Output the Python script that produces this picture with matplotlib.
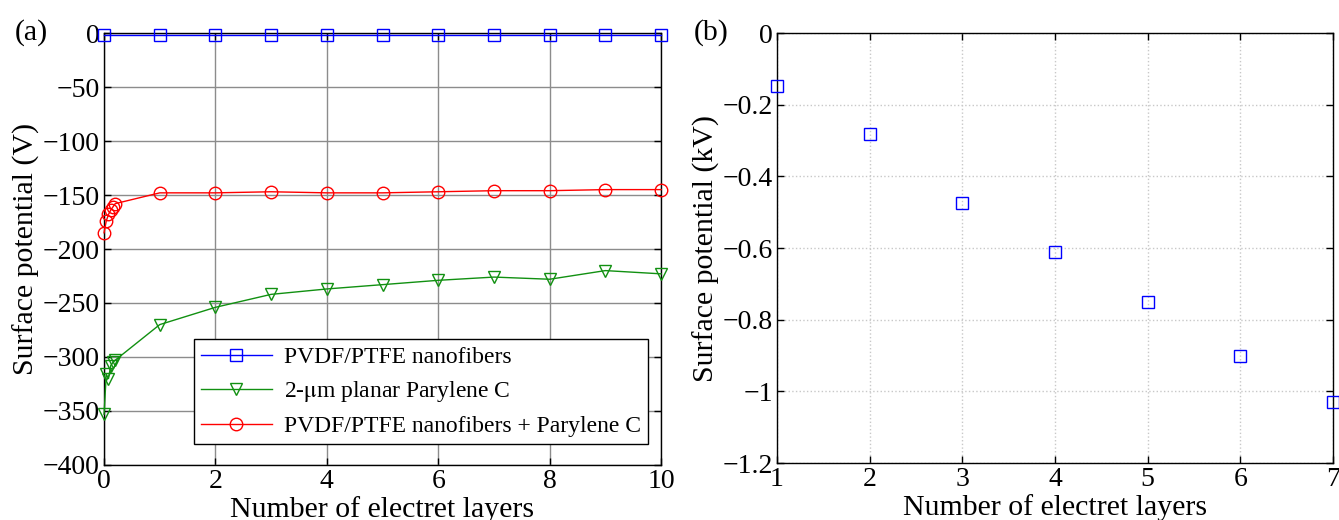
import matplotlib.pyplot as plt

plt.rcParams['font.family'] = ['Liberation Serif', 'DejaVu Serif']
plt.rcParams['mathtext.fontset'] = 'stix'

# Panel (a) data
x_blue = [0, 1, 2, 3, 4, 5, 6, 7, 8, 9, 10]
y_blue = [-2, -2, -2, -2, -2, -2, -2, -2, -2, -2, -2]

x_green = [0, 0.04, 0.08, 0.12, 0.16, 0.2, 1, 2, 3, 4, 5, 6, 7, 8, 9, 10]
y_green = [-353, -316, -320, -308, -305, -303, -270, -254, -242, -237, -233, -229, -226, -228, -220, -223]

x_red = [0, 0.04, 0.08, 0.12, 0.16, 0.2, 1, 2, 3, 4, 5, 6, 7, 8, 9, 10]
y_red = [-185, -174, -168, -164, -161, -158, -148, -148, -147, -148, -148, -147, -146, -146, -145, -145]

# Panel (b) data
x_b = [1, 2, 3, 4, 5, 6, 7]
y_b = [-0.148, -0.282, -0.474, -0.611, -0.750, -0.900, -1.029]

fig = plt.figure(figsize=(13.39, 5.2), dpi=100)
ax1 = fig.add_axes([0.0777, 0.1058, 0.416, 0.8307])
ax2 = fig.add_axes([0.5803, 0.1096, 0.4152, 0.8269])

fs = 21.5
tfs = 20

# Panel (a)
ax1.plot(x_blue, y_blue, '-s', color='blue', mfc='none', ms=8, lw=1, clip_on=False, zorder=5,
         label='PVDF/PTFE nanofibers')
ax1.plot(x_green, y_green, '-v', color='#119011', mfc='none', ms=9, lw=1, clip_on=False, zorder=5,
         label=r'2-$\mathrm{\mu}$m planar Parylene C')
ax1.plot(x_red, y_red, '-o', color='red', mfc='none', ms=9, lw=1, clip_on=False, zorder=5,
         label='PVDF/PTFE nanofibers + Parylene C')
ax1.set_xlim(0, 10)
ax1.set_ylim(-400, 0)
ax1.set_xticks(range(0, 11, 2))
ax1.set_yticks(range(-400, 1, 50))
ax1.grid(True, color='#8c8c8c', lw=1, ls='-')
ax1.set_axisbelow(True)
ax1.set_xlabel('Number of electret layers', fontsize=fs, labelpad=1)
ax1.set_ylabel('Surface potential (V)', fontsize=fs, labelpad=2)
leg = ax1.legend(loc='lower right', bbox_to_anchor=(0.976, 0.048), fontsize=17, frameon=True,
                 fancybox=False, edgecolor='black', framealpha=1, borderpad=0.3,
                 labelspacing=0.48, handlelength=3, handletextpad=0.5, borderaxespad=0)
leg.get_frame().set_linewidth(1)
fig.text(0.011, 0.937, '(a)', fontsize=fs, va='center')

# Panel (b)
ax2.plot(x_b, y_b, 's', color='blue', mfc='none', ms=8, clip_on=False, zorder=5)
ax2.set_xlim(1, 7)
ax2.set_ylim(-1.2, 0)
ax2.set_xticks(range(1, 8))
ax2.set_yticks([-1.2, -1, -0.8, -0.6, -0.4, -0.2, 0])
ax2.set_yticklabels(['\u22121.2', '\u22121', '\u22120.8', '\u22120.6', '\u22120.4', '\u22120.2', '0'])
ax2.grid(True, color='#c8c8c8', lw=1, ls=':')
ax2.set_axisbelow(True)
ax2.set_xlabel('Number of electret layers', fontsize=fs, labelpad=1)
ax2.set_ylabel('Surface potential (kV)', fontsize=fs, labelpad=2)
fig.text(0.518, 0.937, '(b)', fontsize=fs, va='center')

for ax in (ax1, ax2):
    ax.tick_params(direction='in', length=5, width=1, labelsize=tfs, top=True, right=True, pad=3)
    for s in ax.spines.values():
        s.set_linewidth(1)

fig.savefig('out.png', dpi=100)
